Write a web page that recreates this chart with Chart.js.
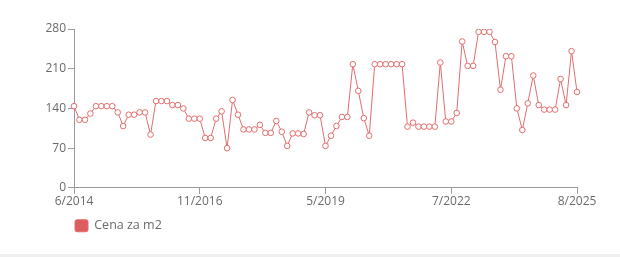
<!DOCTYPE html>
<html>
<head>
<meta charset="utf-8">
<script src="https://cdn.jsdelivr.net/npm/chart.js@4"></script>
<style>
  html, body { margin: 0; padding: 0; background: #fff; }
  #wrap { width: 620px; height: 254px; position: relative; border-bottom: 3px solid #efefef; }
</style>
</head>
<body>
<div id="wrap"><canvas id="myChart"></canvas></div>
<script>
const months = [
  "6/2014", "7/2014", "8/2014", "9/2014", "10/2014", "12/2014", "1/2015", "2/2015", "3/2015", "5/2015",
  "6/2015", "7/2015", "8/2015", "10/2015", "11/2015", "12/2015", "1/2016", "3/2016", "4/2016", "5/2016",
  "7/2016", "8/2016", "9/2016", "11/2016", "12/2016", "1/2017", "3/2017", "4/2017", "5/2017", "7/2017",
  "8/2017", "9/2017", "11/2017", "12/2017", "1/2018", "3/2018", "4/2018", "5/2018", "7/2018", "8/2018",
  "10/2018", "11/2018", "12/2018", "1/2019", "3/2019", "4/2019", "5/2019", "6/2019", "8/2019", "10/2019",
  "11/2019", "1/2020", "3/2020", "4/2020", "6/2020", "8/2020", "9/2020", "11/2020", "1/2021", "2/2021",
  "4/2021", "6/2021", "7/2021", "9/2021", "11/2021", "12/2021", "2/2022", "4/2022", "5/2022", "7/2022",
  "8/2022", "10/2022", "12/2022", "1/2023", "3/2023", "5/2023", "6/2023", "8/2023", "10/2023", "11/2023",
  "1/2024", "3/2024", "4/2024", "6/2024", "8/2024", "9/2024", "11/2024", "1/2025", "2/2025", "3/2025",
  "5/2025", "7/2025", "8/2025"
];

const pricePerM2 = [
  144, 120, 120, 131, 144, 144, 144, 144, 133, 109,
  129, 129, 133, 133, 94, 153, 153, 153, 146, 146,
  140, 122, 122, 122, 88, 88, 122, 135, 70, 155,
  129, 103, 103, 103, 111, 97, 97, 118, 99, 74,
  96, 96, 95, 133, 128, 128, 74, 92, 109, 125,
  125, 218, 171, 123, 92, 218, 218, 218, 218, 218,
  218, 108, 115, 108, 108, 108, 108, 221, 117, 117,
  132, 258, 215, 215, 275, 275, 275, 257, 173, 232,
  232, 140, 102, 149, 198, 146, 138, 138, 138, 192,
  146, 241, 169
];

const shownLabels = ["6/2014", "11/2016", "5/2019", "7/2022", "8/2025"];
const yTicks = [0, 70, 140, 210, 280];

const textGray = '#6a6a6a';
const axisGray = '#9a9a9a';

let ctx = document.getElementById('myChart').getContext('2d');

let lineChart = new Chart(ctx, {
  type: 'line',
  data: {
    labels: months,
    datasets: [{
      label: "Cena za m2",
      data: pricePerM2,
      borderColor: "#e36d6d",
      backgroundColor: "#dc5d5d",
      borderWidth: 1,
      pointRadius: 2.8,
      pointBorderWidth: 1,
      pointBackgroundColor: "#ffffff",
      pointBorderColor: "#e36d6d",
      tension: 0
    }]
  },
  options: {
    responsive: true,
    maintainAspectRatio: false,
    animation: false,
    layout: {
      padding: { top: 29, right: 43, left: 0, bottom: 12 }
    },
    scales: {
      x: {
        grid: {
          drawOnChartArea: false,
          tickLength: 6,
          color: (c) => shownLabels.includes(months[c.index]) ? axisGray : 'rgba(0,0,0,0)'
        },
        border: { color: axisGray },
        ticks: {
          autoSkip: false,
          maxRotation: 0,
          padding: 0,
          color: textGray,
          font: { family: "'Open Sans'", size: 12 },
          callback: function (val, i) {
            let lab = months[i];
            return shownLabels.includes(lab) ? lab : '';
          }
        }
      },
      y: {
        min: yTicks[0],
        max: yTicks[yTicks.length - 1],
        afterFit: (s) => { s.width = 74; },
        grid: { drawOnChartArea: false, tickLength: 6, color: axisGray },
        border: { color: axisGray },
        ticks: {
          stepSize: 70,
          padding: 2,
          color: textGray,
          font: { family: "'Open Sans'", size: 12 }
        }
      }
    },
    plugins: {
      legend: {
        position: 'bottom',
        align: 'start',
        fullSize: false,
        title: {
          display: true,
          text: '',
          font: { size: 1 },
          padding: { top: 0, bottom: 9 }
        },
        labels: {
          boxWidth: 13,
          boxHeight: 12,
          padding: 1,
          useBorderRadius: true,
          borderRadius: 2,
          color: textGray,
          font: { family: "'Open Sans'", size: 12.5 }
        }
      },
      tooltip: { enabled: false }
    }
  }
});
</script>
</body>
</html>
